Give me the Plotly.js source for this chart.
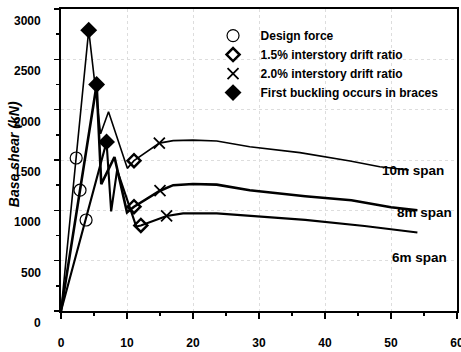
<!DOCTYPE html>
<html><head><meta charset="utf-8">
<script src="https://cdn.plot.ly/plotly-3.0.1.min.js"></script>
<style>body{margin:0;background:#fff}</style></head>
<body><div id="chart" style="width:461px;height:352px"></div>
<script>
// Curves (drift %, base shear kN)
const x10 = [0, 4.2, 6.0, 7.2, 10.05, 11.06, 14.9, 17.0, 20.0, 23.6, 28.6, 36.2, 43.8, 48.3, 52.7];
const y10 = [0, 2790, 1760, 1980, 1417, 1493, 1668, 1692, 1697, 1688, 1632, 1573, 1490, 1433, 1400];
const x8 = [0, 5.4, 6.1, 8.1, 10.0, 11.06, 15.0, 17.0, 20.0, 23.6, 28.6, 37.0, 44.0, 50.0, 54.0];
const y8 = [0, 2250, 1260, 1530, 980, 1036, 1195, 1250, 1262, 1255, 1200, 1140, 1100, 1030, 1000];
const x6 = [0, 6.9, 7.6, 8.5, 11.4, 12.1, 16.0, 18.5, 23.6, 27.0, 37.0, 46.0, 54.0];
const y6 = [0, 1680, 990, 1400, 840, 850, 944, 970, 970, 955, 905, 845, 780];
// Key points
const designX = [2.3, 2.88, 3.8];   const designY = [1520, 1200, 904];
const drift15X = [11.06, 11.06, 12.1]; const drift15Y = [1493, 1036, 850];
const drift20X = [14.9, 15.0, 16.0]; const drift20Y = [1668, 1195, 944];
const buckleX = [4.2, 5.4, 6.9];    const buckleY = [2790, 2250, 1680];
// Axis ticks
const yTickVals = [0, 500, 1000, 1500, 2000, 2500, 3000];
const yTickText = ['0', '500', '1000', '1500', '2000', '2500', '3000'];
const xTickVals = [0, 10, 20, 30, 40, 50, 60];
const xTickText = ['0', '10', '20', '30', '40', '50', '60'];
const legendNames = ['Design force', '1.5% interstory drift ratio', '2.0% interstory drift ratio', 'First buckling occurs in braces'];
const spanLabels = ['10m span', '8m span', '6m span'];

const F = 'Liberation Sans, Arial, sans-serif';
const traces = [
  {x: x10, y: y10, mode: 'lines', line: {color: '#000', width: 1.6}, showlegend: false, hoverinfo: 'skip'},
  {x: x8, y: y8, mode: 'lines', line: {color: '#000', width: 2.6}, showlegend: false, hoverinfo: 'skip'},
  {x: x6, y: y6, mode: 'lines', line: {color: '#000', width: 2.1}, showlegend: false, hoverinfo: 'skip'},
  {x: designX, y: designY, mode: 'markers', name: legendNames[0],
   marker: {symbol: 'circle-open', size: 12, color: '#000', line: {width: 1.2}}},
  {x: drift15X, y: drift15Y, mode: 'markers', name: legendNames[1],
   marker: {symbol: 'diamond-open', size: 10, color: '#000', line: {width: 2.5}}},
  {x: drift20X, y: drift20Y, mode: 'markers', name: legendNames[2],
   marker: {symbol: 'x-thin-open', size: 11, color: '#000', line: {width: 1.8}}},
  {x: buckleX, y: buckleY, mode: 'markers', name: legendNames[3],
   marker: {symbol: 'diamond', size: 13, color: '#000'}}
];

const annotations = yTickVals.map((v, i) => ({
  xref: 'paper', yref: 'y', x: -0.045, y: v, yshift: -12, xanchor: 'right', yanchor: 'middle',
  text: yTickText[i], showarrow: false, font: {family: F, size: 12, color: '#000', weight: 'bold'}
}));
annotations.push({xref: 'paper', yref: 'paper', x: -0.118, y: 0.52, textangle: -90,
  text: '<b><i>Base shear (kN)</i></b>', showarrow: false, xanchor: 'center', yanchor: 'middle',
  font: {family: F, size: 14, color: '#000'}});
const spanPos = [[48.3, 1394], [50.6, 983], [49.8, 536]];
spanLabels.forEach((t, i) => annotations.push({x: spanPos[i][0], y: spanPos[i][1], xanchor: 'left', yanchor: 'middle',
  text: '<b>' + t + '</b>', showarrow: false, font: {family: F, size: 13.5, color: '#000'}}));

const layout = {
  width: 461, height: 352,
  margin: {l: 61, r: 4, t: 9, b: 41},
  paper_bgcolor: '#fff', plot_bgcolor: '#fff',
  font: {family: F, color: '#000'},
  showlegend: true,
  legend: {x: 0.365, y: 0.96, xanchor: 'left', yanchor: 'top', bgcolor: 'rgba(0,0,0,0)',
    font: {family: F, size: 12, color: '#000', weight: 'bold'}, itemwidth: 45, tracegroupgap: 0},
  xaxis: {range: [0, 60], tickvals: xTickVals, ticktext: xTickText, ticks: 'outside', ticklen: 6, tickwidth: 1.5,
    tickcolor: '#000', showline: true, linewidth: 2, linecolor: '#000', mirror: true, zeroline: false,
    showgrid: true, gridcolor: '#dddddd', griddash: 'dot', gridwidth: 1,
    minor: {dtick: 5, ticks: 'outside', ticklen: 3, tickcolor: '#000', showgrid: false},
    tickfont: {family: F, size: 12, color: '#000', weight: 'bold'}, ticklabelstandoff: 14,
    ticklabeloverflow: 'allow', fixedrange: true},
  yaxis: {range: [0, 3000], tickvals: yTickVals, showticklabels: false, ticks: 'outside', ticklen: 5, tickwidth: 1.5,
    tickcolor: '#000', showline: true, linewidth: 2, linecolor: '#000', mirror: true, zeroline: false,
    showgrid: true, gridcolor: '#dddddd', griddash: 'dot', gridwidth: 1,
    minor: {dtick: 250, ticks: 'outside', ticklen: 3, tickcolor: '#000', showgrid: false}, fixedrange: true},
  annotations: annotations
};
Plotly.newPlot('chart', traces, layout, {displayModeBar: false, staticPlot: true});
</script></body></html>
